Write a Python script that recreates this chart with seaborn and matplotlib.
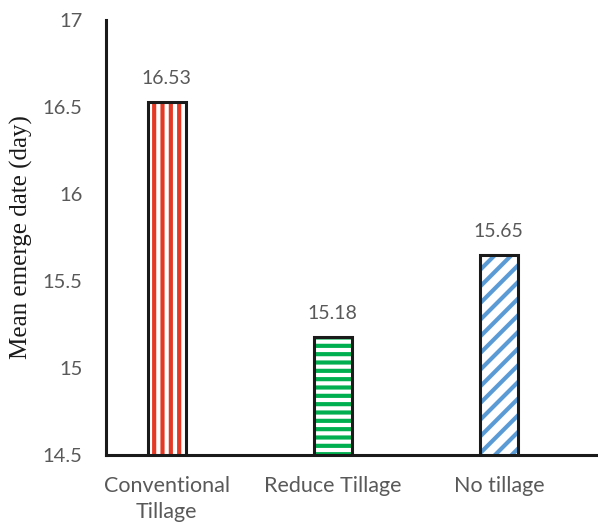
import matplotlib
matplotlib.use("Agg")
import matplotlib.pyplot as plt
from matplotlib.patches import Rectangle
import seaborn as sns
import pandas as pd

categories = ["Conventional\nTillage", "Reduce Tillage", "No tillage"]
values = [16.53, 15.18, 15.65]
colors = ["#E43A25", "#00B050", "#5B9BD5"]
hatches = ["||", "--", "//"]
yticks = [14.5, 15, 15.5, 16, 16.5, 17]

sns.set_style("white")
plt.rcParams["hatch.linewidth"] = 3.0

df = pd.DataFrame({"treatment": categories, "emerge": values})

fig = plt.figure(figsize=(5.98, 5.24), dpi=100)
ax = fig.add_axes([0.177, 0.1317, 0.821, 0.8301])

sns.barplot(data=df, x="treatment", y="emerge", hue="treatment",
            palette=colors, legend=False, width=0.23, ax=ax)

for patch, col, h in zip(ax.patches, colors, hatches):
    patch.set_facecolor("white")
    patch.set_edgecolor(col)
    patch.set_hatch(h)
    patch.set_linewidth(0)
    ax.add_patch(Rectangle(patch.get_xy(), patch.get_width(), patch.get_height(),
                           fill=False, edgecolor="#1a1a1a", linewidth=2.2, zorder=3))
    ax.text(patch.get_x() + patch.get_width() / 2, patch.get_height() + 0.085,
            f"{patch.get_height():.2f}", ha="center", va="bottom",
            fontsize=14, color="#595959", family="Lato")

ax.set_ylim(14.5, 17)
ax.set_xlim(-0.367, 2.59)
ax.set_yticks(yticks)
ax.set_yticklabels([f"{t:g}" for t in yticks])
ax.set_xlabel("")
ax.set_ylabel("Mean emerge date (day)", fontsize=18, family="Liberation Serif",
              color="#1a1a1a", labelpad=7)

for lab in ax.get_yticklabels():
    lab.set_family("Lato")
    lab.set_fontsize(14.5)
    lab.set_color("#595959")
for lab in ax.get_xticklabels():
    lab.set_family("Lato")
    lab.set_fontsize(15.5)
    lab.set_color("#595959")
    lab.set_linespacing(1.4)
ax.tick_params(axis="y", length=0, pad=17)
ax.tick_params(axis="x", length=0, pad=15)

for side in ["top", "right"]:
    ax.spines[side].set_visible(False)
for side in ["left", "bottom"]:
    ax.spines[side].set_color("#1a1a1a")
    ax.spines[side].set_linewidth(2.2)

fig.savefig("out.png", dpi=100)
